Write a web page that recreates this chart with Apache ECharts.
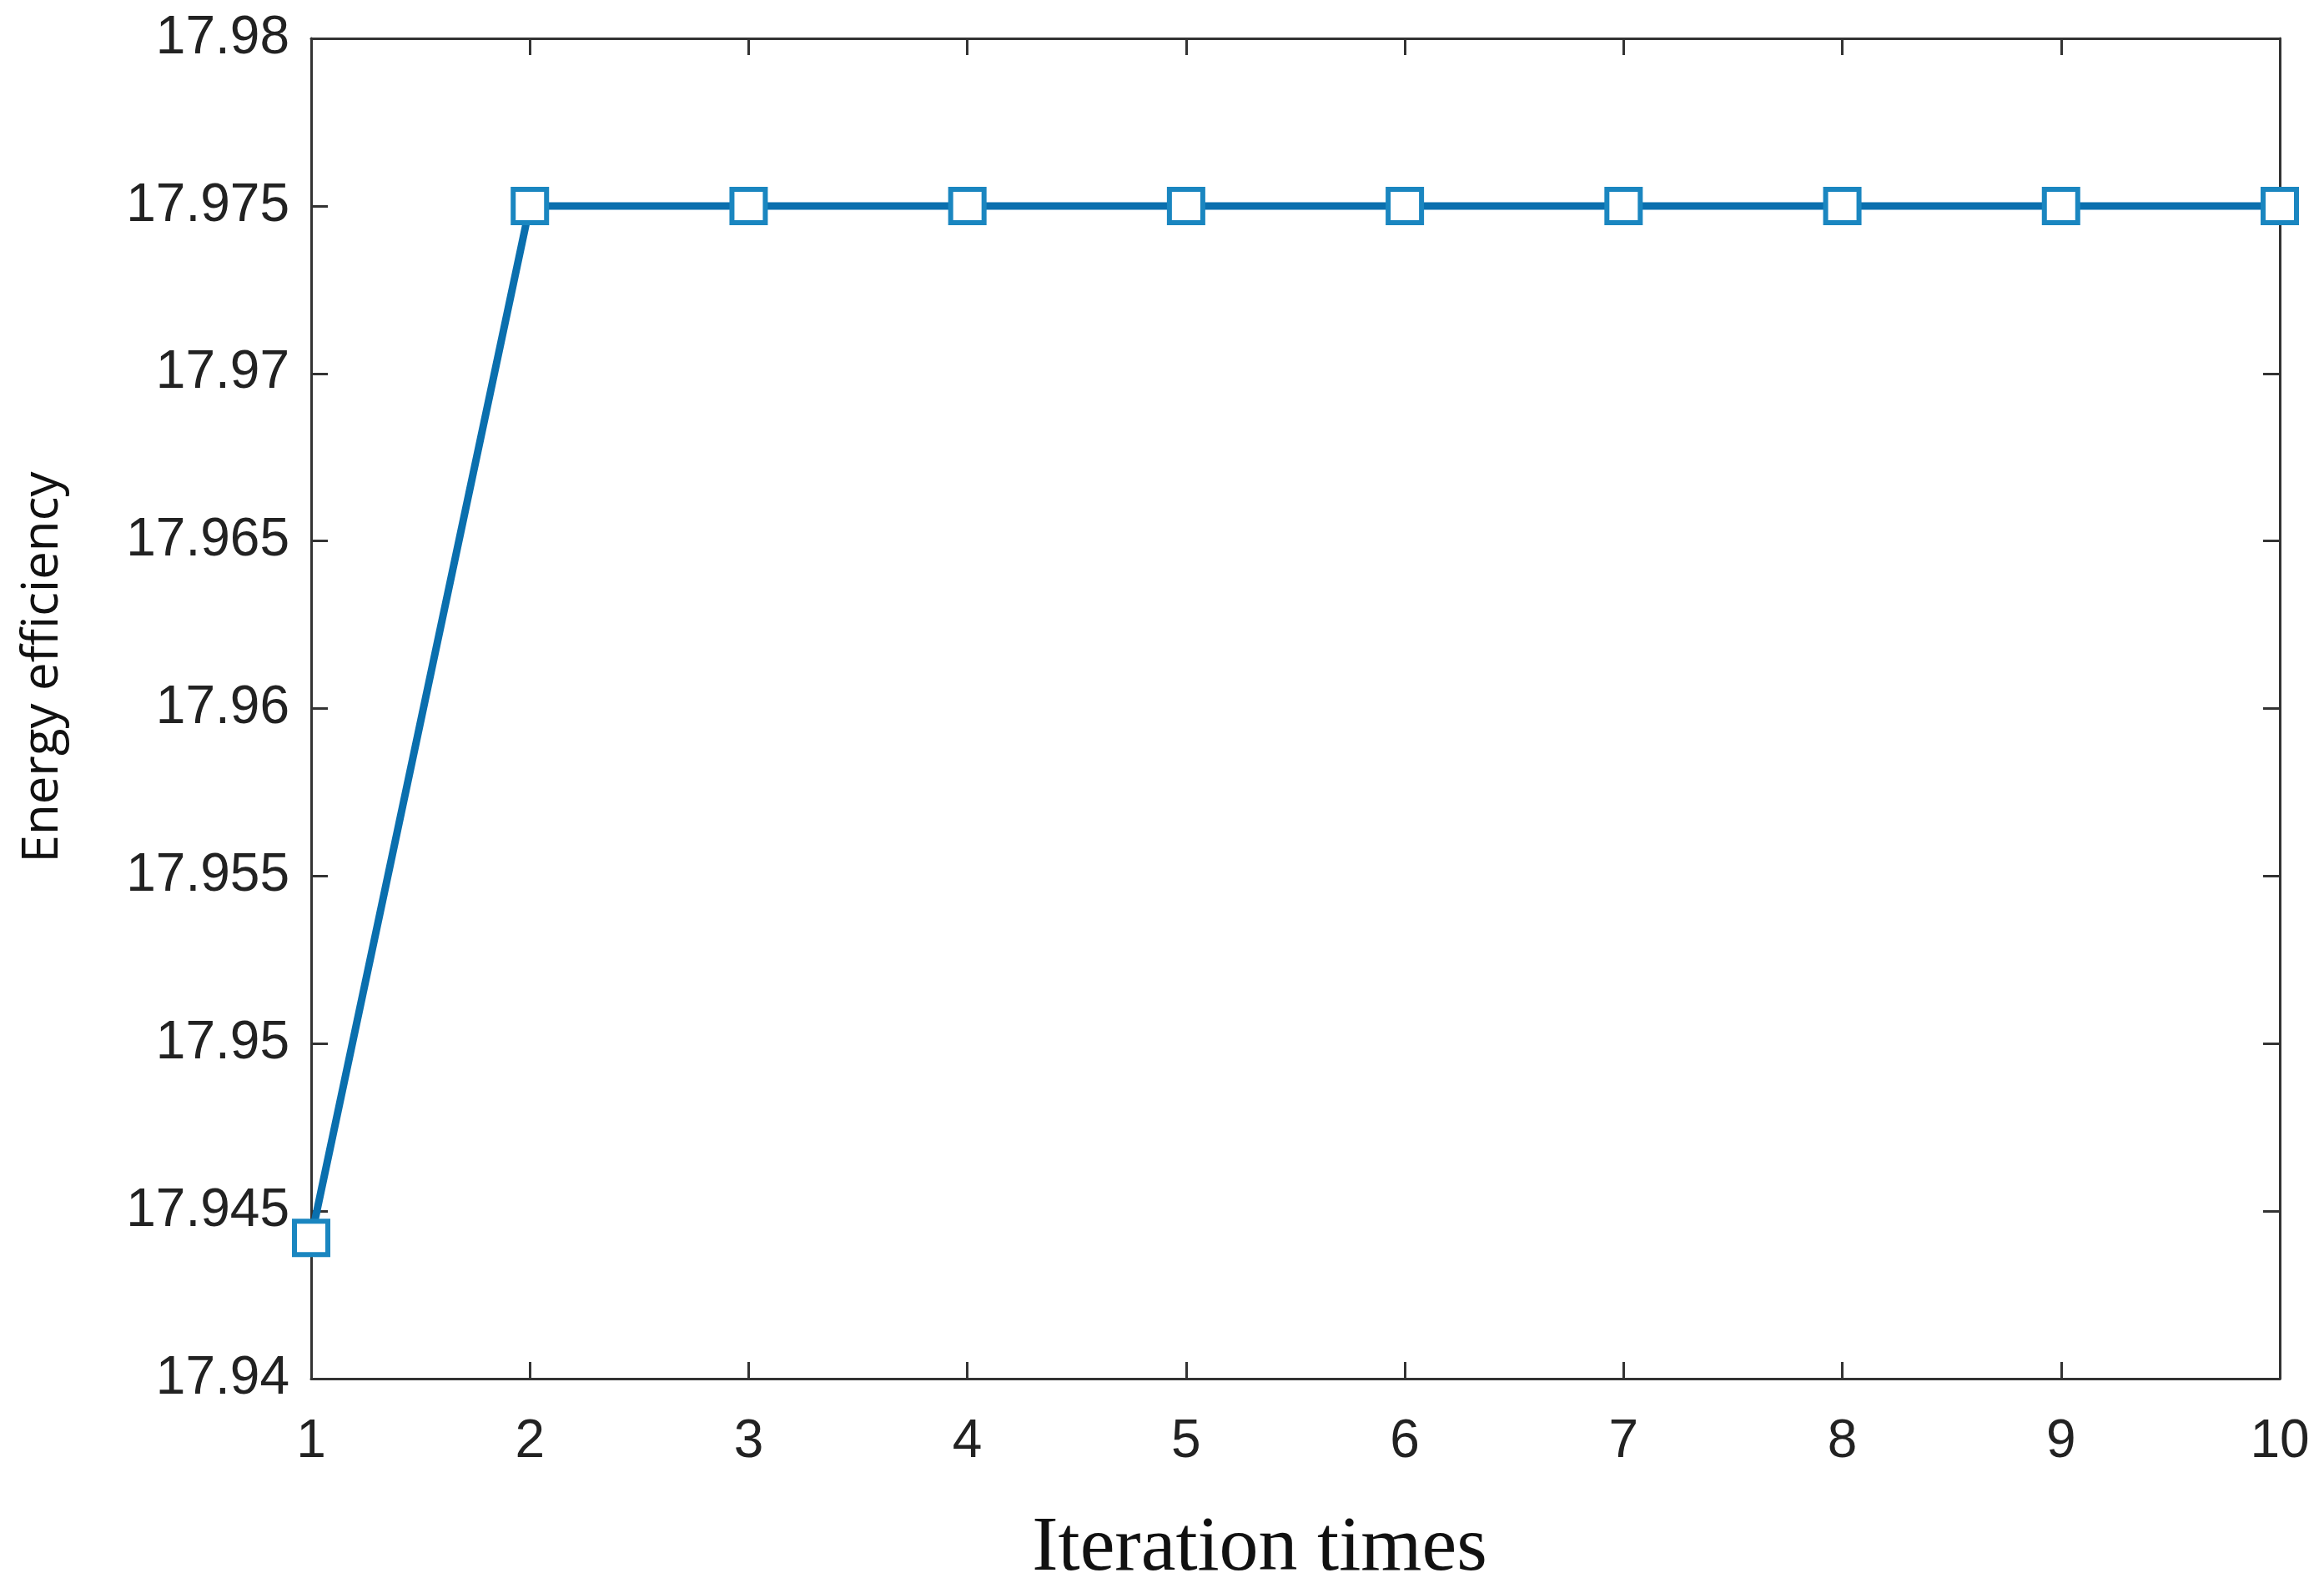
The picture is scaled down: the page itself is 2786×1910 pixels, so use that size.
<!DOCTYPE html>
<html>
<head>
<meta charset="utf-8">
<script src="https://cdn.jsdelivr.net/npm/echarts@6/dist/echarts.min.js"></script>
<style>html,body{margin:0;padding:0;background:#fff}#main{width:2786px;height:1910px}</style>
</head>
<body>
<div id="main"></div>
<script>
var iterations = [1,2,3,4,5,6,7,8,9,10];
var efficiency = [17.9442,17.975,17.975,17.975,17.975,17.975,17.975,17.975,17.975,17.975];
var yMin = 17.94, yMax = 17.98, yStep = 0.005;

var lblsize = 64, axcolor = '#333', tickLen = 20;

var pts = iterations.map(function (x, i) { return [x, efficiency[i]]; });

function xax(pos, showLabel) {
	return {
		type: 'value', position: pos, min: 1, max: 10, interval: 1,
		axisLine: {show: true, lineStyle: {color: axcolor, width: 3}},
		axisTick: {show: true, inside: true, length: tickLen, lineStyle: {color: axcolor, width: 3}},
		axisLabel: {show: showLabel, fontSize: lblsize, color: '#222', fontFamily: 'Liberation Sans', margin: 44},
		splitLine: {show: false}
	};
}
function yax(pos, showLabel) {
	return {
		type: 'value', position: pos, min: yMin, max: yMax, interval: yStep,
		axisLine: {show: true, lineStyle: {color: axcolor, width: 3}},
		axisTick: {show: true, inside: true, length: tickLen, lineStyle: {color: axcolor, width: 3}},
		axisLabel: {show: showLabel, fontSize: lblsize, color: '#222', fontFamily: 'Liberation Sans', margin: 26,
			formatter: function (v) { return String(+v.toFixed(3)); }},
		splitLine: {show: false}
	};
}

var chart = echarts.init(document.getElementById('main'));
chart.setOption({
	animation: false,
	backgroundColor: '#fff',
	grid: {left: 373, right: 53, top: 46, bottom: 257},
	xAxis: [xax('bottom', true), xax('top', false)],
	yAxis: [yax('left', true), yax('right', false)],
	graphic: [
		{type: 'text', x: 1510, y: 1857, style: {text: 'Iteration times', font: '94px "Liberation Serif"', fill: '#111', align: 'center', verticalAlign: 'middle'}},
		{type: 'text', x: 22, y: 800, rotation: Math.PI / 2, style: {text: 'Energy efficiency', font: '60px "Open Sans"', fill: '#111', align: 'center', verticalAlign: 'top'}}
	],
	series: [{
		type: 'line',
		data: pts,
		symbol: 'rect',
		symbolSize: 40,
		showAllSymbol: true,
		lineStyle: {color: '#0a6fae', width: 9},
		itemStyle: {color: '#fff', borderColor: '#1a86c0', borderWidth: 6}
	}]
});
</script>
</body>
</html>
